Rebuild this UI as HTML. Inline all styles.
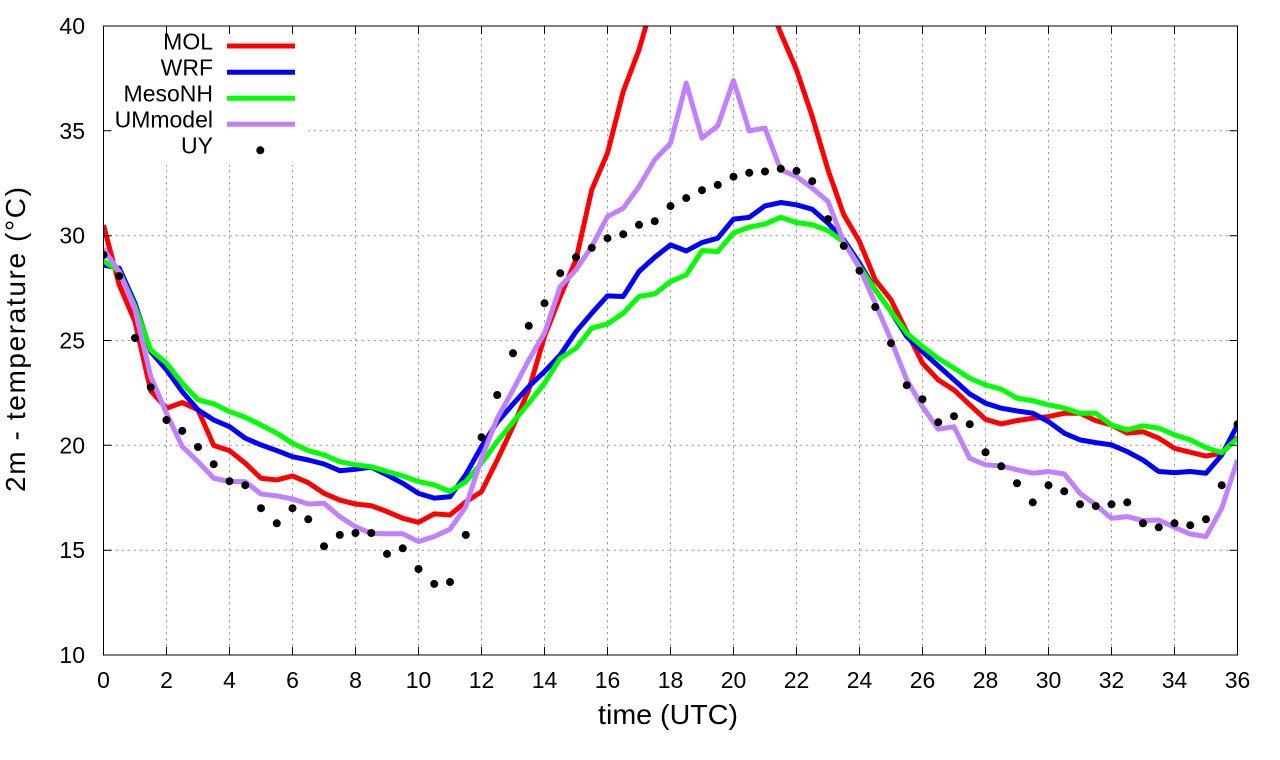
<!DOCTYPE html>
<html>
<head>
<meta charset="utf-8">
<style>
html,body{margin:0;padding:0;background:#fff;}
svg{display:block;}
text{font-family:"Liberation Sans",Arial,sans-serif;fill:#000;}
</style>
</head>
<body>
<svg width="1280" height="760" viewBox="0 0 1280 760" xmlns="http://www.w3.org/2000/svg">
<defs>
<clipPath id="pc"><rect x="103.5" y="26" width="1134" height="629"/></clipPath>
</defs>
<rect width="1280" height="760" fill="#fff"/>

<!-- grid -->
<g stroke="#a0a0a0" stroke-width="1" stroke-dasharray="2.5,3.5" fill="none">
<path d="M166.5 26V655M229.5 26V655M292.5 26V655M355.5 26V655M418.5 26V655M481.5 26V655M544.5 26V655M607.5 26V655M670.5 26V655M733.5 26V655M796.5 26V655M859.5 26V655M922.5 26V655M985.5 26V655M1048.5 26V655M1111.5 26V655M1174.5 26V655"/>
<path d="M103.5 550.2H1237.5M103.5 445.3H1237.5M103.5 340.5H1237.5M103.5 235.7H1237.5M103.5 130.8H1237.5"/>
</g>

<!-- key background -->
<rect x="104" y="27" width="204" height="138" fill="#fff"/>

<!-- data lines -->
<g clip-path="url(#pc)">
<g transform="matrix(31.5 0 0 -20.967 103.5 864.67)" fill="none" stroke-width="5" stroke-linejoin="round" stroke-linecap="butt">
<polyline vector-effect="non-scaling-stroke" stroke="#ff0000" points="0,30.5 0.5,27.65 1,25.9 1.5,22.6 2,21.77 2.5,22.04 3,21.69 3.5,19.99 4,19.75 4.5,19.15 5,18.43 5.5,18.35 6,18.54 6.5,18.22 7,17.71 7.5,17.39 8,17.2 8.5,17.12 9,16.84 9.5,16.52 10,16.33 10.5,16.73 11,16.68 11.5,17.3 12,17.79 12.5,19.3 13,20.9 13.5,22.64 14,25.19 14.5,27.1 15,28.85 15.5,32.19 16,33.94 16.5,36.88 17,38.86 17.5,41.45 18,44 18.5,46 19,47 19.5,47.5 20,47 20.5,45 21,41.55 21.5,39.66 22,37.91 22.5,35.68 23,33.14 23.5,31 24,29.72 24.5,27.89 25,26.94 25.5,25.42 26,23.92 26.5,23.12 27,22.64 27.5,21.93 28,21.24 28.5,21.02 29,21.18 29.5,21.29 30,21.37 30.5,21.53 31,21.53 31.5,21.18 32,20.97 32.5,20.58 33,20.65 33.5,20.34 34,19.86 34.5,19.67 35,19.49 35.5,19.62 36,20.39"/>
<polyline vector-effect="non-scaling-stroke" stroke="#0000ff" points="0,28.6 0.5,28.45 1,26.78 1.5,24.47 2,23.6 2.5,22.56 3,21.69 3.5,21.21 4,20.89 4.5,20.34 5,20.02 5.5,19.75 6,19.46 6.5,19.3 7,19.11 7.5,18.79 8,18.86 8.5,18.96 9,18.59 9.5,18.19 10,17.71 10.5,17.48 11,17.55 11.5,18.6 12,19.94 12.5,21.1 13,21.97 13.5,22.8 14,23.52 14.5,24.31 15,25.42 15.5,26.3 16,27.13 16.5,27.1 17,28.29 17.5,28.97 18,29.56 18.5,29.27 19,29.67 19.5,29.88 20,30.79 20.5,30.87 21,31.42 21.5,31.58 22,31.47 22.5,31.26 23,30.6 23.5,29.8 24,28.69 24.5,27.42 25,26.38 25.5,25.19 26,24.47 26.5,23.79 27,23.12 27.5,22.45 28,22.01 28.5,21.77 29,21.64 29.5,21.53 30,21.13 30.5,20.58 31,20.26 31.5,20.13 32,20.02 32.5,19.7 33,19.3 33.5,18.75 34,18.7 34.5,18.75 35,18.67 35.5,19.54 36,20.97"/>
<polyline vector-effect="non-scaling-stroke" stroke="#00ff00" points="0,28.8 0.5,28.3 1,26.62 1.5,24.55 2,23.92 2.5,22.96 3,22.17 3.5,21.98 4,21.61 4.5,21.34 5,20.97 5.5,20.58 6,20.1 6.5,19.75 7,19.54 7.5,19.22 8,19.07 8.5,18.98 9,18.75 9.5,18.54 10,18.27 10.5,18.11 11,17.8 11.5,18.27 12,19.15 12.5,20.18 13,21.1 13.5,22.01 14,22.96 14.5,24.15 15,24.63 15.5,25.59 16,25.79 16.5,26.3 17,27.1 17.5,27.22 18,27.81 18.5,28.13 19,29.29 19.5,29.24 20,30.12 20.5,30.41 21,30.55 21.5,30.88 22,30.62 22.5,30.52 23,30.24 23.5,29.7 24,28.53 24.5,27.42 25,26.38 25.5,25.35 26,24.71 26.5,24.15 27,23.68 27.5,23.2 28,22.88 28.5,22.68 29,22.25 29.5,22.13 30,21.93 30.5,21.77 31,21.53 31.5,21.53 32,20.97 32.5,20.74 33,20.93 33.5,20.82 34,20.5 34.5,20.26 35,19.89 35.5,19.65 36,20.34"/>
<polyline vector-effect="non-scaling-stroke" stroke="#c080ff" points="0,29.36 0.5,28.29 1,26.46 1.5,23.28 2,21.53 2.5,19.94 3,19.22 3.5,18.43 4,18.27 4.5,18.27 5,17.68 5.5,17.59 6,17.44 6.5,17.2 7,17.24 7.5,16.6 8,16.12 8.5,15.8 9,15.78 9.5,15.78 10,15.41 10.5,15.65 11,16 11.5,17.07 12,19.38 12.5,21.29 13,22.64 13.5,24.07 14,25.35 14.5,27.57 15,28.37 15.5,29.48 16,30.91 16.5,31.31 17,32.34 17.5,33.62 18,34.41 18.5,37.28 19,34.65 19.5,35.24 20,37.4 20.5,35 21,35.13 21.5,33.14 22,32.82 22.5,32.27 23,31.63 23.5,29.7 24,28.45 24.5,26.78 25,25.03 25.5,23.12 26,21.85 26.5,20.77 27,20.89 27.5,19.38 28,19.07 28.5,19.02 29,18.83 29.5,18.67 30,18.75 30.5,18.64 31,17.71 31.5,17.16 32,16.52 32.5,16.6 33,16.41 33.5,16.44 34,16.09 34.5,15.77 35,15.65 35.5,17 36,19.3"/>
</g>

<!-- UY observations -->
<g fill="#000">
<circle cx="103.5" cy="255" r="4"/><circle cx="119.25" cy="276.1" r="4"/><circle cx="135" cy="338" r="4"/><circle cx="150.75" cy="387.3" r="4"/><circle cx="166.5" cy="420" r="4"/><circle cx="182.25" cy="430.9" r="4"/><circle cx="198" cy="447" r="4"/><circle cx="213.75" cy="464.2" r="4"/><circle cx="229.5" cy="481.2" r="4"/><circle cx="245.25" cy="485.2" r="4"/><circle cx="261" cy="508.2" r="4"/><circle cx="276.75" cy="523.3" r="4"/><circle cx="292.5" cy="508.2" r="4"/><circle cx="308.25" cy="519.3" r="4"/><circle cx="324" cy="546.2" r="4"/><circle cx="339.75" cy="534.9" r="4"/><circle cx="355.5" cy="533" r="4"/><circle cx="371.25" cy="533" r="4"/><circle cx="387" cy="553.9" r="4"/><circle cx="402.75" cy="548.3" r="4"/><circle cx="418.5" cy="569" r="4"/><circle cx="434.25" cy="583.9" r="4"/><circle cx="450" cy="582" r="4"/><circle cx="465.75" cy="534.9" r="4"/><circle cx="481.5" cy="437.2" r="4"/><circle cx="497.25" cy="395" r="4"/><circle cx="513" cy="353.3" r="4"/><circle cx="528.75" cy="325.8" r="4"/><circle cx="544.5" cy="303.2" r="4"/><circle cx="560.25" cy="273.2" r="4"/><circle cx="576" cy="257.3" r="4"/><circle cx="591.75" cy="247.8" r="4"/><circle cx="607.5" cy="238.2" r="4"/><circle cx="623.25" cy="234.2" r="4"/><circle cx="639" cy="224.8" r="4"/><circle cx="654.75" cy="221.2" r="4"/><circle cx="670.5" cy="206.1" r="4"/><circle cx="686.25" cy="198.1" r="4"/><circle cx="702" cy="190.2" r="4"/><circle cx="717.75" cy="184.9" r="4"/><circle cx="733.5" cy="176.7" r="4"/><circle cx="749.25" cy="172.8" r="4"/><circle cx="765" cy="171.5" r="4"/><circle cx="780.75" cy="168.8" r="4"/><circle cx="796.5" cy="170.9" r="4"/><circle cx="812.25" cy="181.2" r="4"/><circle cx="828" cy="219.1" r="4"/><circle cx="843.75" cy="245.9" r="4"/><circle cx="859.5" cy="270.7" r="4"/><circle cx="875.25" cy="307" r="4"/><circle cx="891" cy="343.2" r="4"/><circle cx="906.75" cy="385.2" r="4"/><circle cx="922.5" cy="399.2" r="4"/><circle cx="938.25" cy="422.3" r="4"/><circle cx="954" cy="416.2" r="4"/><circle cx="969.75" cy="424.2" r="4"/><circle cx="985.5" cy="452.3" r="4"/><circle cx="1001.25" cy="466.3" r="4"/><circle cx="1017" cy="483.3" r="4"/><circle cx="1032.75" cy="502.4" r="4"/><circle cx="1048.5" cy="485.2" r="4"/><circle cx="1064.25" cy="491.3" r="4"/><circle cx="1080" cy="504.3" r="4"/><circle cx="1095.75" cy="506.1" r="4"/><circle cx="1111.5" cy="504.3" r="4"/><circle cx="1127.25" cy="502.4" r="4"/><circle cx="1143" cy="523.3" r="4"/><circle cx="1158.75" cy="527.3" r="4"/><circle cx="1174.5" cy="523.3" r="4"/><circle cx="1190.25" cy="525.2" r="4"/><circle cx="1206" cy="519.3" r="4"/><circle cx="1221.75" cy="485.2" r="4"/><circle cx="1237.5" cy="424.2" r="4"/>
</g>
</g>

<!-- border and ticks -->
<g stroke="#000" stroke-width="1" fill="none">
<rect x="103.5" y="26" width="1134" height="629"/>
<path d="M103.5 550.2h8M103.5 445.3h8M103.5 340.5h8M103.5 235.7h8M103.5 130.8h8
M1237.5 550.2h-8M1237.5 445.3h-8M1237.5 340.5h-8M1237.5 235.7h-8M1237.5 130.8h-8"/>
<path d="M166.5 655v-8M229.5 655v-8M292.5 655v-8M355.5 655v-8M418.5 655v-8M481.5 655v-8M544.5 655v-8M607.5 655v-8M670.5 655v-8M733.5 655v-8M796.5 655v-8M859.5 655v-8M922.5 655v-8M985.5 655v-8M1048.5 655v-8M1111.5 655v-8M1174.5 655v-8
M166.5 26v8M229.5 26v8M292.5 26v8M355.5 26v8M418.5 26v8M481.5 26v8M544.5 26v8M607.5 26v8M670.5 26v8M733.5 26v8M796.5 26v8M859.5 26v8M922.5 26v8M985.5 26v8M1048.5 26v8M1111.5 26v8M1174.5 26v8"/>
</g>

<!-- y tick labels -->
<g font-size="23" text-anchor="end">
<text x="85" y="663">10</text>
<text x="85" y="558.2">15</text>
<text x="85" y="453.3">20</text>
<text x="85" y="348.5">25</text>
<text x="85" y="243.7">30</text>
<text x="85" y="138.8">35</text>
<text x="85" y="34">40</text>
</g>

<!-- x tick labels -->
<g font-size="23" text-anchor="middle">
<text x="103.5" y="688">0</text>
<text x="166.5" y="688">2</text>
<text x="229.5" y="688">4</text>
<text x="292.5" y="688">6</text>
<text x="355.5" y="688">8</text>
<text x="418.5" y="688">10</text>
<text x="481.5" y="688">12</text>
<text x="544.5" y="688">14</text>
<text x="607.5" y="688">16</text>
<text x="670.5" y="688">18</text>
<text x="733.5" y="688">20</text>
<text x="796.5" y="688">22</text>
<text x="859.5" y="688">24</text>
<text x="922.5" y="688">26</text>
<text x="985.5" y="688">28</text>
<text x="1048.5" y="688">30</text>
<text x="1111.5" y="688">32</text>
<text x="1174.5" y="688">34</text>
<text x="1237.5" y="688">36</text>
</g>

<!-- axis titles -->
<text x="598" y="724" font-size="28" textLength="140" lengthAdjust="spacingAndGlyphs">time (UTC)</text>
<text transform="translate(25,339.5) rotate(-90)" x="-152.5" y="0" font-size="28" textLength="305" lengthAdjust="spacing">2m - temperature (°C)</text>

<!-- legend -->
<g font-size="23" text-anchor="end">
<text x="213" y="49.5">MOL</text>
<text x="213" y="75.5">WRF</text>
<text x="213" y="101.5">MesoNH</text>
<text x="213" y="127.5">UMmodel</text>
<text x="213" y="153.5">UY</text>
</g>
<g stroke-width="5" fill="none">
<path d="M227 46H295" stroke="#ff0000"/>
<path d="M227 72.3H295" stroke="#0000ff"/>
<path d="M227 98.3H295" stroke="#00ff00"/>
<path d="M227 124.3H295" stroke="#c080ff"/>
</g>
<circle cx="260.3" cy="150.3" r="4" fill="#000"/>
</svg>
</body>
</html>
